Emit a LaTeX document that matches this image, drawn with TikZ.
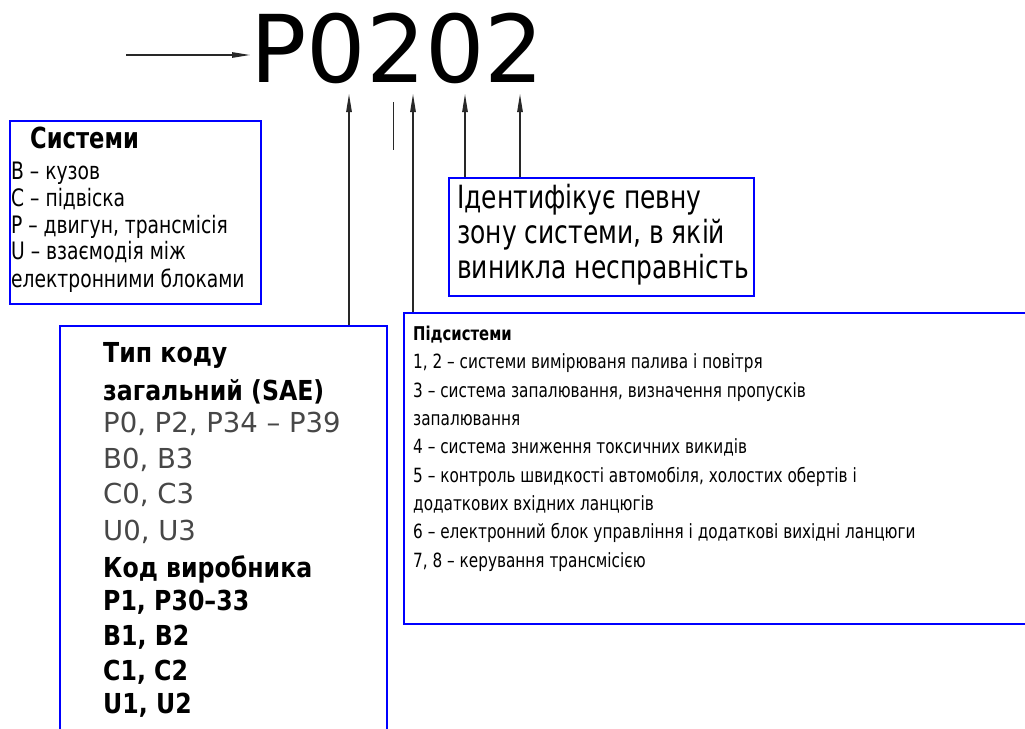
\documentclass[tikz,border=0pt]{standalone}
\usepackage{fontspec}
\setmainfont{DejaVu Sans}[FakeStretch=0.78]
\newfontfamily\wfont{DejaVu Sans}
\newfontfamily\nfont{DejaVu Sans}[FakeStretch=0.86]
\usetikzlibrary{arrows.meta}
\definecolor{bxblue}{RGB}{0,0,255}
\definecolor{lngray}{RGB}{40,40,40}
\tikzset{
  blbox/.style={draw=bxblue, line width=1.8pt, inner sep=0pt, anchor=north west},
  arr/.style={draw=lngray, line width=1.1pt, -{Triangle[length=18pt,width=5.5pt]}},
  tx/.style={anchor=base west, inner sep=0pt},
  sysf/.style={font=\fontsize{24}{24}\selectfont},
  idf/.style={font=\fontsize{32}{32}\selectfont},
  subf/.style={font=\fontsize{19.6}{19.6}\selectfont},
  typb/.style={font=\nfont\bfseries\fontsize{27.5}{27.5}\selectfont},
  typr/.style={font=\wfont\fontsize{27.5}{27.5}\selectfont, text=black!72},
}
\begin{document}
\begin{tikzpicture}[x=1pt,y=-1pt]
\useasboundingbox (0,0) rectangle (1025,728);
\clip (0,0) rectangle (1025,728);
% code
\node[tx, font=\wfont\fontsize{93.5}{93.5}\selectfont] (code) at (250,82) {P0202};
\coordinate (a0) at (126,55);
\draw[arr] (a0) -- (a0 -| code.west);
% boxes
\node[blbox, minimum width=251pt, minimum height=183pt] (sys) at (9,120) {};
\node[blbox, minimum width=305pt, minimum height=118pt] (idb) at (448,177) {};
\node[blbox, minimum width=650pt, minimum height=311pt] (sub) at (403,312) {};
\node[blbox, minimum width=327pt, minimum height=430pt] (typ) at (59,325) {};
% arrow targets
\coordinate (t1) at (349,94);
\coordinate (t2) at (413,94);
\coordinate (t3) at (465,94);
\coordinate (t4) at (520,94);
\draw[arr] (typ.north -| t1) -- (t1);
\draw[arr] (sub.north -| t2) -- (t2);
\draw[arr] (idb.north -| t3) -- (t3);
\draw[arr] (idb.north -| t4) -- (t4);
\coordinate (m1) at (393,102);
\coordinate (m2) at (393,150);
\draw[draw=lngray, line width=0.8pt] (m1) -- (m2);
% Системи
\node[tx, font=\bfseries\fontsize{29}{29}\selectfont] (s0) at (30,148) {Системи};
\node[tx, sysf] (s1) at (11,179) {B – кузов};
\node[tx, sysf] (s2) at (11,206) {C – підвіска};
\node[tx, sysf] (s3) at (11,233) {P – двигун, трансмісія};
\node[tx, sysf] (s4) at (11,259) {U – взаємодія між};
\node[tx, sysf] (s5) at (11,287) {електронними блоками};
% Ідентифікує
\node[tx, idf] (i1) at (457,208) {Ідентифікує певну};
\node[tx, idf] (i2) at (457,243) {зону системи, в якій};
\node[tx, idf] (i3) at (457,278) {виникла несправність};
% Підсистеми
\node[tx, font=\bfseries\fontsize{19}{19}\selectfont] (p0) at (413,340) {Підсистеми};
\node[tx, subf] (p1) at (413,368) {1, 2 – системи вимірюваня палива і повітря};
\node[tx, subf] (p2) at (413,397) {3 – система запалювання, визначення пропусків};
\node[tx, subf] (p3) at (413,425) {запалювання};
\node[tx, subf] (p4) at (413,453) {4 – система зниження токсичних викидів};
\node[tx, subf] (p5) at (413,482) {5 – контроль швидкості автомобіля, холостих обертів і};
\node[tx, subf] (p6) at (413,510) {додаткових вхідних ланцюгів};
\node[tx, subf] (p7) at (413,538) {6 – електронний блок управління і додаткові вихідні ланцюги};
\node[tx, subf] (p8) at (413,567) {7, 8 – керування трансмісією};
% Тип коду
\node[tx, typb] (c1) at (103,362) {Тип коду};
\node[tx, typb] (c2) at (103,400) {загальний (SAE)};
\node[tx, typr] (c3) at (103,432) {P0, P2, P34 – P39};
\node[tx, typr] (c4) at (103,468) {B0, B3};
\node[tx, typr] (c5) at (103,503) {C0, C3};
\node[tx, typr] (c6) at (103,540) {U0, U3};
\node[tx, typb] (c7) at (103,577) {Код виробника};
\node[tx, typb] (c8) at (103,610) {P1, P30–33};
\node[tx, typb] (c9) at (103,645) {B1, B2};
\node[tx, typb] (c10) at (103,680) {C1, C2};
\node[tx, typb] (c11) at (103,713) {U1, U2};
\end{tikzpicture}
\end{document}
